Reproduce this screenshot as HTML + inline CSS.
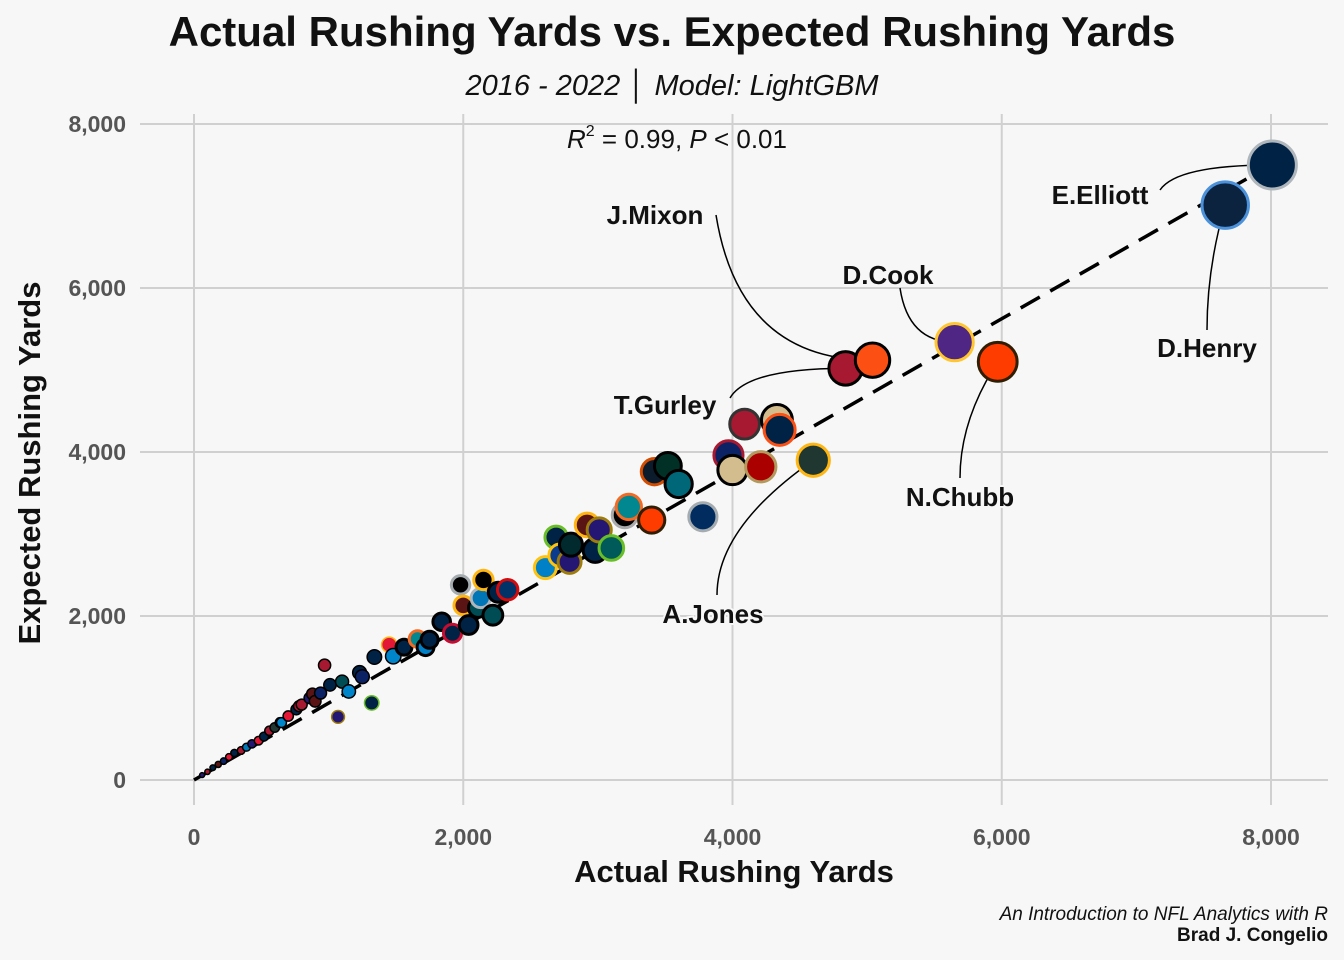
<!DOCTYPE html>
<html><head><meta charset="utf-8"><style>
body{margin:0;background:#f7f7f7;}
svg{display:block;font-family:"Liberation Sans",sans-serif;}
</style></head><body>
<svg id="chart" width="1344" height="960" viewBox="0 0 1344 960">
<rect width="1344" height="960" fill="#f7f7f7"/>
<g id="grid"></g>
<line id="fitline" stroke="#000" stroke-width="3.5" stroke-dasharray="22,12"/>
<g id="leaders"></g>
<g id="points"></g>
<g id="labels"></g>
<text x="672" y="46" text-anchor="middle" font-size="42" font-weight="bold" fill="#111">Actual Rushing Yards vs. Expected Rushing Yards</text>
<text x="672" y="95" text-anchor="middle" font-size="29" font-style="italic" fill="#111">2016 - 2022 │ Model: LightGBM</text>
<text x="677" y="148" text-anchor="middle" font-size="26" fill="#111"><tspan font-style="italic">R</tspan><tspan dy="-12" font-size="16">2</tspan><tspan dy="12"> = 0.99, </tspan><tspan font-style="italic">P</tspan> &lt; 0.01</text>
<text x="734" y="882" text-anchor="middle" font-size="31" font-weight="bold" fill="#111">Actual Rushing Yards</text>
<text transform="translate(40,463) rotate(-90)" text-anchor="middle" font-size="31" font-weight="bold" fill="#111">Expected Rushing Yards</text>
<text x="1328" y="920" text-anchor="end" font-size="19" font-style="italic" fill="#111">An Introduction to NFL Analytics with R</text>
<text x="1328" y="941" text-anchor="end" font-size="19" font-weight="bold" fill="#111">Brad J. Congelio</text>
</svg>
<script>
const xTicks=[0,2000,4000,6000,8000];
const yTicks=[0,2000,4000,6000,8000];
const actual=[8010,7660,5650,5970,5040,4840,4600,4090,4330,4350,3970,4000,4210,3520,3420,3600,3780,3230,3200,3400,2920,3010,2690,2800,3100,2980,2790,2610,2720,1980,2150,2130,2260,2330,2000,2110,2220,1840,2040,1920,1750,1660,1720,1560,1450,1480,1340,1320,1070,970,1010,940,900,860,800,760,700,650,600,560,520,480,430,390,350,300,260,220,180,140,100,60,1230,1100,880,1250,1150,780,640];
const expected=[7500,7010,5340,5100,5120,5020,3900,4340,4390,4270,3960,3780,3820,3830,3760,3610,3210,3330,3230,3170,3110,3050,2960,2870,2830,2800,2660,2590,2740,2380,2440,2220,2290,2320,2130,2100,2010,1930,1890,1790,1710,1720,1620,1620,1650,1510,1500,940,770,1400,1160,1060,960,1000,920,860,780,700,640,600,530,480,440,400,360,330,280,230,190,150,100,60,1310,1200,1050,1260,1080,900,700];
const fills=["#002244","#0c2340","#4f2683","#ff3c00","#fb4f14","#a71930","#203731","#a71930","#d3bc8d","#002244","#0b2265","#d3bc8d","#aa0000","#013126","#0c1c2c","#006778","#002c5f","#00878f","#000000","#ff3c00","#5a1414","#241773","#002244","#002a2e","#005a5a","#002244","#241773","#0080c6","#0b3b8c","#000000","#000000","#0076b6","#002244","#013369","#5a1414","#004c54","#004c54","#002244","#002244","#002244","#002244","#00878f","#0080c6","#002244","#e31837","#0085ca","#002244","#002244","#241773","#a71930","#002244","#0b2265","#5a1414","#241773","#a71930","#002244","#e31837","#0085ca","#203731","#a71930","#002244","#e31837","#241773","#0076b6","#a71930","#002244","#e31837","#0b2265","#5a1414","#002244","#a71930","#241773","#002244","#004c54","#5a1414","#0b2265","#0085ca","#a71930","#002244"];
const strokes=["#b0b7bc","#4b92db","#ffc62f","#311d00","#000000","#000000","#ffb612","#333333","#000000","#fb4f14","#a71930","#000000","#b3995d","#000000","#d34d00","#000000","#a5acaf","#f26a24","#aaaaaa","#311d00","#ffb612","#9e7c0c","#69be28","#000000","#69be28","#000000","#9e7c0c","#ffc20e","#ffc20e","#a5acaf","#ffb612","#b0b7bc","#000000","#d50a0a","#ffb612","#000000","#000000","#000000","#000000","#c60c30","#000000","#f26a24","#000000","#000000","#ffb612","#000000","#000000","#69be28","#9e7c0c"];
const labelNames=["E.Elliott","D.Henry","D.Cook","N.Chubb","J.Mixon","T.Gurley","A.Jones"];
const labelIdx=[0,1,2,3,4,5,6];
const labelPos=[[1100,195],[1207,348],[888,275],[960,497],[655,215],[665,405],[713,614]];
const leaderStart=[[1160,190],[1207,330],[900,288],[960,478],[716,215],[730,398],[717,595]];

const sx=v=>194+v*(1271-194)/8000;
const sy=v=>780-v*(780-124)/8000;
const NS="http://www.w3.org/2000/svg";
const grid=document.getElementById('grid');
xTicks.forEach(t=>{
 const l=document.createElementNS(NS,'line');
 l.setAttribute('x1',sx(t));l.setAttribute('x2',sx(t));l.setAttribute('y1',114);l.setAttribute('y2',805);
 l.setAttribute('stroke','#d0d0d0');l.setAttribute('stroke-width','2');
 
 
 grid.appendChild(l);
 const tx=document.createElementNS(NS,'text');
 tx.setAttribute('x',sx(t));tx.setAttribute('y',845);tx.setAttribute('text-anchor','middle');
 tx.setAttribute('font-size','23');tx.setAttribute('font-weight','bold');tx.setAttribute('fill','#555');
 tx.textContent=t.toLocaleString('en-US');
 
 
 grid.appendChild(tx);
});
yTicks.forEach(t=>{
 const l=document.createElementNS(NS,'line');
 l.setAttribute('x1',140);l.setAttribute('x2',1328);l.setAttribute('y1',sy(t));l.setAttribute('y2',sy(t));
 l.setAttribute('stroke','#d0d0d0');l.setAttribute('stroke-width','2');
 
 
 grid.appendChild(l);
 const tx=document.createElementNS(NS,'text');
 tx.setAttribute('x',126);tx.setAttribute('y',sy(t)+8);tx.setAttribute('text-anchor','end');
 tx.setAttribute('font-size','23');tx.setAttribute('font-weight','bold');tx.setAttribute('fill','#555');
 tx.textContent=t.toLocaleString('en-US');
 
 
 grid.appendChild(tx);
});
const fl=document.getElementById('fitline');
fl.setAttribute('x1',sx(0));fl.setAttribute('y1',sy(0));fl.setAttribute('x2',sx(8000));fl.setAttribute('y2',sy(7500));

const rad=v=>2+22*Math.pow(Math.max(v,1)/8000,0.8);
const pts=document.getElementById('points');
const order=actual.map((v,i)=>i).sort((a,b)=>actual[a]-actual[b]);
order.forEach(i=>{
 const c=document.createElementNS(NS,'circle');
 c.setAttribute('cx',sx(actual[i]));c.setAttribute('cy',sy(expected[i]));
 c.setAttribute('r',rad(actual[i]));
 c.setAttribute('fill',fills[i%fills.length]);
 c.setAttribute('stroke',strokes[i]||'#000000');
 c.setAttribute('stroke-width',actual[i]>1500?3:1.5);
 
 
 pts.appendChild(c);
});
const leaders=document.getElementById('leaders');
const labs=document.getElementById('labels');
labelNames.forEach((n,k)=>{
 const i=labelIdx[k];
 const px=sx(actual[i]),py=sy(expected[i]);
 const [lx,ly]=leaderStart[k];
 const p=document.createElementNS(NS,'path');
 const mx=(Math.abs(px-lx)>Math.abs(py-ly))?`${lx+(px-lx)*0.15},${py}`:`${lx},${ly+(py-ly)*0.5}`;
 p.setAttribute('d',`M${lx},${ly} Q${mx} ${px},${py}`);
 p.setAttribute('fill','none');p.setAttribute('stroke','#000');p.setAttribute('stroke-width','1.5');
 
 
 leaders.appendChild(p);
 const t=document.createElementNS(NS,'text');
 t.setAttribute('x',labelPos[k][0]);t.setAttribute('y',labelPos[k][1]+9);t.setAttribute('text-anchor','middle');
 t.setAttribute('font-size','26');t.setAttribute('font-weight','bold');t.setAttribute('fill','#111');
 t.setAttribute('stroke','#f7f7f7');t.setAttribute('stroke-width','4');t.setAttribute('paint-order','stroke');
 t.textContent=n;
 
 
 labs.appendChild(t);
});
</script>
</body></html>
